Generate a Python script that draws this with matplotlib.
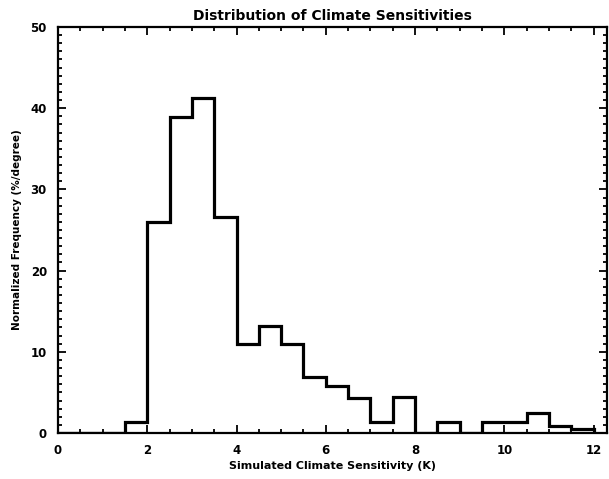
import numpy as np
import matplotlib
matplotlib.use('Agg')
import matplotlib.pyplot as plt
from matplotlib.ticker import MultipleLocator

# Data: normalized frequency (%/degree) per 0.5 K bin, 0 to 12 K
bin_start = 0.0
bin_width = 0.5
freq = [0, 0, 0, 1.3, 26.0, 38.9, 41.2, 26.6, 10.9, 13.2, 10.9, 6.9,
        5.8, 4.3, 1.3, 4.4, 0, 1.3, 0, 1.3, 1.3, 2.5, 0.9, 0.5]

edges = bin_start + bin_width * np.arange(len(freq) + 1)

plt.rcParams['font.family'] = 'DejaVu Sans'
plt.rcParams['font.weight'] = 'bold'

fig = plt.figure(figsize=(6.09, 4.79), dpi=100)
ax = fig.add_axes([58 / 609, 1 - 433 / 479, (607 - 58) / 609, (433 - 27) / 479])

ax.stairs(freq, edges, color='black', linewidth=2.3, baseline=0)

ax.set_xlim(0, 12.3)
ax.set_ylim(0, 50)
ax.xaxis.set_major_locator(MultipleLocator(2))
ax.xaxis.set_minor_locator(MultipleLocator(0.5))
ax.yaxis.set_major_locator(MultipleLocator(10))
ax.yaxis.set_minor_locator(MultipleLocator(1))
ax.tick_params(which='both', direction='in', top=True, right=True, width=1.3)
ax.tick_params(which='major', length=6, labelsize=8.5, pad=8)
ax.tick_params(which='minor', length=3)
for s in ax.spines.values():
    s.set_linewidth(1.6)

ax.set_title('Distribution of Climate Sensitivities', fontsize=10, fontweight='bold', pad=5)
ax.set_xlabel('Simulated Climate Sensitivity (K)', fontsize=8, fontweight='bold', labelpad=3)
ax.set_ylabel('Normalized Frequency (%/degree)', fontsize=7.5, fontweight='bold', labelpad=6)

fig.savefig('out.png', dpi=100)
